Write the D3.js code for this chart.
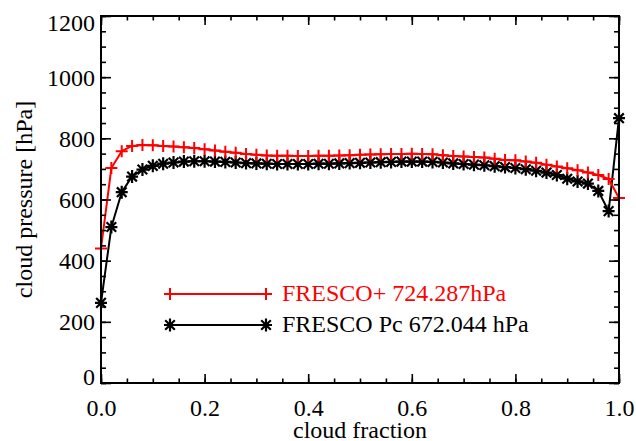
<!DOCTYPE html>
<html>
<head>
<meta charset="utf-8">
<script src="https://cdn.jsdelivr.net/npm/d3@7"></script>
<style>
  html, body { margin: 0; padding: 0; background: #fff; }
  svg { display: block; }
  text { font-family: "Liberation Serif", "Times New Roman", serif; }
</style>
</head>
<body>
<svg id="chart" width="636" height="441"></svg>
<script>
// ---- data ----
const cloudFraction = d3.range(51).map(i => +(i * 0.02).toFixed(2));
const frescoPlus = [
  440, 703, 758, 775, 778, 777, 775, 773, 771, 768,
  764, 760, 756, 753, 749, 746, 744, 743, 743, 742,
  742, 743, 743, 744, 745, 746, 747, 748, 749, 749,
  750, 749, 748, 745, 742, 741, 739, 737, 733, 729,
  728, 724, 720, 714, 708, 702, 696, 688, 680, 667,
  605
];
const frescoPc = [
  262, 510, 624, 675, 698, 710, 717, 721, 724, 725,
  725, 724, 723, 721, 719, 718, 717, 716, 716, 716,
  716, 717, 717, 718, 719, 720, 721, 722, 723, 724,
  724, 724, 723, 721, 718, 716, 714, 712, 709, 706,
  703, 699, 694, 688, 680, 668, 659, 652, 628, 562,
  866
];
const xMajorTicks = [0, 0.2, 0.4, 0.6, 0.8, 1.0];
const xTickLabels = ["0.0", "0.2", "0.4", "0.6", "0.8", "1.0"];
const xMinorTicks = d3.range(21).map(i => +(i * 0.05).toFixed(2));
const yMajorTicks = [0, 200, 400, 600, 800, 1000, 1200];
const yTickLabels = ["0", "200", "400", "600", "800", "1000", "1200"];
const yMinorTicks = d3.range(25).map(i => i * 50);
const seriesNames = ["FRESCO+ 724.287hPa", "FRESCO Pc 672.044 hPa"];
const seriesColors = ["#ff0000", "#000000"];

// ---- layout ----
const L = 101, R = 619, T = 16, B = 383;
const FONT = 24;
const svg = d3.select("#chart");

const x = d3.scaleLinear().domain([0, 1]).range([L, R]);
const y = d3.scaleLinear().domain([0, 1200]).range([B, T]);

// ---- series ----
const plusPath = "M-6,0H6M0,-6V6";
const astPath = "M0,-6.5V6.5M-6,0H6M-4.8,-4.8L4.8,4.8M-4.8,4.8L4.8,-4.8";

function drawSeries(values, color, symPath, sw) {
  const pts = cloudFraction.map((c, i) => [c, values[i]]);
  const line = d3.line().x(d => x(d[0])).y(d => y(d[1]));
  svg.append("path").attr("d", line(pts))
    .attr("fill", "none").attr("stroke", color).attr("stroke-width", 2)
    .attr("stroke-linejoin", "round");
  svg.append("g").selectAll("path").data(pts).join("path")
    .attr("transform", d => `translate(${x(d[0])},${y(d[1])})`)
    .attr("d", symPath).attr("fill", "none")
    .attr("stroke", color).attr("stroke-width", sw);
}
drawSeries(frescoPc, seriesColors[1], astPath, 2.2);
drawSeries(frescoPlus, seriesColors[0], plusPath, 2);

// ---- axes ----
function styleAxis(g) {
  g.selectAll(".domain").remove();
  g.selectAll(".tick line").attr("stroke", "#000").attr("stroke-width", 1.6);
  g.selectAll("text").attr("font-family", "Liberation Serif, serif")
    .attr("font-size", FONT).attr("fill", "#000");
}
// bottom
svg.append("g").attr("transform", `translate(0,${B})`)
  .call(d3.axisBottom(x).tickValues(xMinorTicks).tickSize(-4.5).tickFormat(""))
  .call(styleAxis);
svg.append("g").attr("transform", `translate(0,${B})`)
  .call(d3.axisBottom(x).tickValues(xMajorTicks).tickSize(-9).tickPadding(16)
    .tickFormat((d, i) => xTickLabels[i]))
  .call(styleAxis);
// top
svg.append("g").attr("transform", `translate(0,${T})`)
  .call(d3.axisTop(x).tickValues(xMinorTicks).tickSize(-4.5).tickFormat(""))
  .call(styleAxis);
svg.append("g").attr("transform", `translate(0,${T})`)
  .call(d3.axisTop(x).tickValues(xMajorTicks).tickSize(-9).tickFormat(""))
  .call(styleAxis);
// left
svg.append("g").attr("transform", `translate(${L},0)`)
  .call(d3.axisLeft(y).tickValues(yMinorTicks).tickSize(-5).tickFormat(""))
  .call(styleAxis);
const yl = svg.append("g").attr("transform", `translate(${L},0)`)
  .call(d3.axisLeft(y).tickValues(yMajorTicks).tickSize(-10).tickPadding(6)
    .tickFormat((d, i) => yTickLabels[i]))
  .call(styleAxis);
yl.selectAll(".tick text").attr("dy", d => d === 0 ? "0.05em" : (d === 1200 ? "0.6em" : "0.33em"));
// right
svg.append("g").attr("transform", `translate(${R},0)`)
  .call(d3.axisRight(y).tickValues(yMinorTicks).tickSize(-5).tickFormat(""))
  .call(styleAxis);
svg.append("g").attr("transform", `translate(${R},0)`)
  .call(d3.axisRight(y).tickValues(yMajorTicks).tickSize(-10).tickFormat(""))
  .call(styleAxis);
// frame
svg.append("rect").attr("x", L).attr("y", T).attr("width", R - L).attr("height", B - T)
  .attr("fill", "none").attr("stroke", "#000").attr("stroke-width", 2);

// ---- axis titles ----
svg.append("text").attr("x", (L + R) / 2).attr("y", 438)
  .attr("text-anchor", "middle").attr("font-size", FONT).text("cloud fraction");
svg.append("text").attr("transform", `translate(32,${(T + B) / 2}) rotate(-90)`)
  .attr("text-anchor", "middle").attr("font-size", FONT).text("cloud pressure [hPa]");

// ---- legend ----
const legX0 = 170, legX1 = 266, legTextX = 282;
const legY = [294, 325];
const legSyms = [plusPath, astPath];
seriesNames.forEach((name, i) => {
  const g = svg.append("g");
  g.append("line").attr("x1", legX0).attr("x2", legX1).attr("y1", legY[i]).attr("y2", legY[i])
    .attr("stroke", seriesColors[i]).attr("stroke-width", 2);
  [legX0, legX1].forEach(px => {
    g.append("path").attr("transform", `translate(${px},${legY[i]})`)
      .attr("d", legSyms[i]).attr("fill", "none")
      .attr("stroke", seriesColors[i]).attr("stroke-width", i === 1 ? 2.2 : 2);
  });
  g.append("text").attr("x", legTextX).attr("y", legY[i] + 7)
    .attr("font-size", FONT).attr("fill", seriesColors[i]).text(name);
});
</script>
</body>
</html>
